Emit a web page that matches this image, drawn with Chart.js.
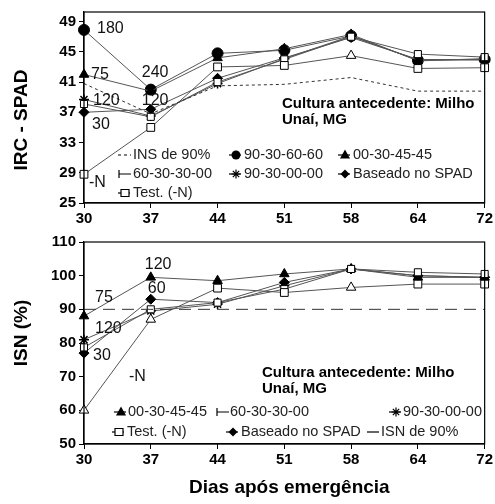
<!DOCTYPE html>
<html><head><meta charset="utf-8">
<script src="https://cdn.jsdelivr.net/npm/chart.js@4.4.0/dist/chart.umd.min.js"></script>
<style>
html,body{margin:0;padding:0;background:#fff;}
#wrap{position:relative;width:495px;height:504px;overflow:hidden;background:#fff;}
canvas{position:absolute;left:0;}
#c1{top:0;} #c2{top:230px;}
</style></head><body>
<div id="wrap"><canvas id="c1" width="495" height="230"></canvas><canvas id="c2" width="495" height="274"></canvas></div>
<script>
// ---------- data ----------
const days = ['30','37','44','51','58','64','72'];

// Top panel: IRC - SPAD
const topTicks = [25,29,33,37,41,45,49];
const ins90Top   = [40.8, 36.8, 40.5, 40.7, 41.6, 39.8, 39.8];
const t90306060  = [47.9, 40.0, 44.8, 45.2, 47.1, 43.9, 44.0];
const t00304545  = [42.0, 39.8, 44.2, 45.4, 47.3, 43.8, 44.1];
const t60303000  = [38.1, 36.4, 41.0, 44.0, 47.0, 44.7, 44.3];
const t90300000  = [38.7, 36.5, 40.8, 44.1, 47.1, 43.9, 44.0];
const tSpad      = [37.0, 37.4, 41.5, 44.2, 46.9, 44.0, 43.9];
const tTest      = [28.8, 35.0, 43.0, 43.2, 44.5, 42.8, 42.9];

// Bottom panel: ISN (%)
const bottomTicks = [50,60,70,80,90,100,110];
const b00304545 = [88.0, 99.5, 98.5, 100.5, 102.0, 99.5, 99.5];
const b60303000 = [78.7, 90.0, 92.0, 96.0, 102.0, 101.0, 100.5];
const b90300000 = [81.0, 89.5, 91.5, 97.0, 102.0, 100.0, 99.5];
const bSpad     = [77.0, 93.0, 92.0, 98.0, 102.0, 100.0, 99.5];
const bTest     = [60.0, 87.0, 96.3, 95.0, 96.5, 97.5, 97.5];
const isn90     = [90, 90, 90, 90, 90, 90, 90];

// ---------- helpers ----------
const FONT = "'Liberation Sans', Arial, sans-serif";
const LINE = '#555';

function drawSym(ctx, sym, x, y) {
  ctx.save();
  ctx.strokeStyle = '#000'; ctx.fillStyle = '#000'; ctx.lineWidth = 1.2;
  const r = 4.5;
  ctx.beginPath();
  if (sym === 'dash') {
    ctx.setLineDash([3,3]); ctx.moveTo(x-7,y); ctx.lineTo(x+6,y); ctx.stroke();
  } else if (sym === 'line') {
    ctx.moveTo(x-6,y); ctx.lineTo(x+6,y); ctx.stroke();
  } else if (sym === 'hbar') {
    ctx.moveTo(x-6,y); ctx.lineTo(x+6,y); ctx.moveTo(x-6,y-4); ctx.lineTo(x-6,y+4); ctx.stroke();
  } else {
    ctx.moveTo(x-7,y); ctx.lineTo(x+5,y); ctx.stroke();
    ctx.beginPath();
    if (sym === 'circle') { ctx.arc(x,y,r,0,Math.PI*2); ctx.fill(); }
    else if (sym === 'triangle') { ctx.moveTo(x,y-r-1); ctx.lineTo(x+r+0.5,y+r-1); ctx.lineTo(x-r-0.5,y+r-1); ctx.closePath(); ctx.fill(); }
    else if (sym === 'rectRot') { ctx.moveTo(x,y-r); ctx.lineTo(x+r,y); ctx.lineTo(x,y+r); ctx.lineTo(x-r,y); ctx.closePath(); ctx.fill(); }
    else if (sym === 'rect' || sym === 'hook') { ctx.fillStyle='#fff'; ctx.rect(x-4,y-3.5,8,7); ctx.fill(); ctx.stroke(); }
    else if (sym === 'star') {
      for (let k=0;k<4;k++){ const a=k*Math.PI/4; ctx.moveTo(x-Math.cos(a)*r,y-Math.sin(a)*r); ctx.lineTo(x+Math.cos(a)*r,y+Math.sin(a)*r);} ctx.stroke();
    }
  }
  ctx.restore();
}

const extrasPlugin = {
  id: 'extras',
  afterDraw(chart, args, o) {
    const {ctx, chartArea: a} = chart;
    const xs = chart.scales.x, ys = chart.scales.y;
    ctx.save();
    // frame
    ctx.strokeStyle = '#000'; ctx.lineWidth = 1.2;
    ctx.strokeRect(a.left, a.top, a.right - a.left, a.bottom - a.top);
    // point labels
    ctx.fillStyle = '#111'; ctx.textBaseline = 'middle'; ctx.textAlign = 'left';
    ctx.font = '16px ' + FONT;
    (o.labels || []).forEach(l => {
      const px = xs.getPixelForValue(l.i), py = ys.getPixelForValue(l.series[l.i]);
      ctx.fillText(l.text, px + l.dx, py + l.dy);
    });
    // notes
    ctx.font = 'bold 15px ' + FONT; ctx.fillStyle = '#000';
    (o.notes || []).forEach(n => ctx.fillText(n.text, n.x, n.y));
    // legend
    ctx.font = '14.5px ' + FONT; ctx.fillStyle = '#222';
    (o.legend || []).forEach(it => {
      drawSym(ctx, it.sym, it.sx, it.y);
      ctx.fillStyle = '#222';
      ctx.fillText(it.text, it.tx, it.y);
    });
    // y title
    if (o.yTitle) {
      ctx.save();
      ctx.font = 'bold 19px ' + FONT; ctx.fillStyle = '#000'; ctx.textAlign = 'center';
      ctx.translate(o.yTitle.x, o.yTitle.y); ctx.rotate(-Math.PI/2);
      ctx.fillText(o.yTitle.text, 0, 0);
      ctx.restore();
    }
    if (o.xTitle) {
      ctx.font = 'bold 19px ' + FONT; ctx.fillStyle = '#000'; ctx.textAlign = 'center';
      ctx.fillText(o.xTitle.text, (a.left + a.right)/2 + 5, o.xTitle.y);
    }
    ctx.restore();
  }
};

function ds(label, data, style, extra) {
  return Object.assign({
    label, data, borderColor: LINE, borderWidth: 1, tension: 0,
    pointStyle: style, pointRadius: 5, pointBorderColor: '#000', pointBackgroundColor: '#000',
    pointBorderWidth: 1
  }, extra || {});
}

function axes(tickVals, min, max, xHeight) {
  return {
    x: {
      type: 'category', offset: false,
      grid: { drawOnChartArea: false, drawTicks: true, tickLength: 5, color: '#000' },
      border: { display: true, color: '#000', width: 1.2 },
      ticks: { color: '#000', font: { family: FONT, size: 15, weight: 'bold' }, padding: 2, maxRotation: 0, autoSkip: false },
      afterFit: s => { s.height = xHeight; }
    },
    y: {
      min, max,
      afterBuildTicks: s => { s.ticks = tickVals.map(v => ({ value: v })); },
      grid: { drawOnChartArea: false, drawTicks: true, tickLength: 5, color: '#000' },
      border: { display: true, color: '#000', width: 1.2 },
      ticks: { color: '#000', font: { family: FONT, size: 15, weight: 'bold' }, padding: 3 },
      afterFit: s => { s.width = 84; }
    }
  };
}

const common = {
  responsive: false, animation: false, devicePixelRatio: 1,
  plugins: { legend: { display: false }, tooltip: { enabled: false } }
};

// ---------- top chart ----------
new Chart(document.getElementById('c1'), {
  type: 'line',
  data: {
    labels: days,
    datasets: [
      ds('INS de 90%', ins90Top, 'circle', { pointRadius: 0, borderDash: [3,3], borderColor: '#333' }),
      ds('Test. (-N)', tTest, ['rect','rect','rect','rect','triangle','rect','rect'], { pointBackgroundColor: '#fff', pointRadius: 5.5 }),
      ds('60-30-30-00', t60303000, 'rect', { pointBackgroundColor: '#fff', pointRadius: 5 }),
      ds('90-30-00-00', t90300000, 'star', { pointBorderWidth: 1.5, pointRadius: 5 }),
      ds('Baseado no SPAD', tSpad, 'rectRot', { pointRadius: 5 }),
      ds('00-30-45-45', t00304545, 'triangle', { pointRadius: 5.5 }),
      ds('90-30-60-60', t90306060, 'circle', { pointRadius: 5.5 })
    ]
  },
  options: Object.assign({}, common, {
    layout: { padding: { top: 5, right: 9, left: 0, bottom: 0 } },
    scales: axes(topTicks, 25, 50.27, 27),
    plugins: Object.assign({}, common.plugins, {
      extras: {
        yTitle: { text: 'IRC - SPAD', x: 22, y: 120 },
        labels: [
          { text: '180', series: t90306060, i: 0, dx: 13, dy: -1 },
          { text: '75',  series: t00304545, i: 0, dx: 7,  dy: 0 },
          { text: '240', series: t90306060, i: 1, dx: -9, dy: -17 },
          { text: '120', series: t90300000, i: 0, dx: 9,  dy: 1 },
          { text: '120', series: tSpad,     i: 1, dx: -9, dy: -9 },
          { text: '30',  series: tSpad,     i: 0, dx: 8,  dy: 12 },
          { text: '-N',  series: tTest,     i: 0, dx: 5,  dy: 8 }
        ],
        notes: [
          { text: 'Cultura antecedente: Milho', x: 282, y: 104 },
          { text: 'Unaí, MG', x: 282, y: 120 }
        ],
        legend: [
          { sym: 'dash', text: 'INS de 90%', sx: 125, tx: 133, y: 155 },
          { sym: 'circle', text: '90-30-60-60', sx: 236, tx: 244, y: 155 },
          { sym: 'triangle', text: '00-30-45-45', sx: 345, tx: 353, y: 155 },
          { sym: 'hbar', text: '60-30-30-00', sx: 125, tx: 133, y: 174 },
          { sym: 'star', text: '90-30-00-00', sx: 236, tx: 244, y: 174 },
          { sym: 'rectRot', text: 'Baseado no SPAD', sx: 345, tx: 353, y: 174 },
          { sym: 'hook', text: 'Test. (-N)', sx: 125, tx: 133, y: 193 }
        ]
      }
    })
  }),
  plugins: [extrasPlugin]
});

// ---------- bottom chart ----------
new Chart(document.getElementById('c2'), {
  type: 'line',
  data: {
    labels: days,
    datasets: [
      ds('ISN de 90%', isn90, 'circle', { pointRadius: 0, borderDash: [12,7], borderColor: '#333' }),
      ds('Test. (-N)', bTest, ['triangle','triangle','rect','rect','triangle','rect','rect'], { pointBackgroundColor: '#fff', pointRadius: 5.5 }),
      ds('60-30-30-00', b60303000, 'rect', { pointBackgroundColor: '#fff', pointRadius: 5 }),
      ds('90-30-00-00', b90300000, 'star', { pointBorderWidth: 1.5, pointRadius: 5 }),
      ds('Baseado no SPAD', bSpad, 'rectRot', { pointRadius: 5 }),
      ds('00-30-45-45', b00304545, 'triangle', { pointRadius: 5.5 })
    ]
  },
  options: Object.assign({}, common, {
    layout: { padding: { top: 10, right: 9, left: 0, bottom: 0 } },
    scales: axes(bottomTicks, 50, 110, 60),
    plugins: Object.assign({}, common.plugins, {
      extras: {
        yTitle: { text: 'ISN (%)', x: 22, y: 103 },
        xTitle: { text: 'Dias após emergência', y: 258 },
        labels: [
          { text: '120', series: b00304545, i: 1, dx: -6,  dy: -13 },
          { text: '60',  series: bSpad,     i: 1, dx: -3,  dy: -11 },
          { text: '75',  series: b00304545, i: 0, dx: 11,  dy: -18 },
          { text: '120', series: b90300000, i: 0, dx: 11,  dy: -11 },
          { text: '30',  series: bSpad,     i: 0, dx: 9,   dy: 2 },
          { text: '-N',  series: bTest,     i: 0, dx: 45,  dy: -34 }
        ],
        notes: [
          { text: 'Cultura antecedente: Milho', x: 262, y: 143 },
          { text: 'Unaí, MG', x: 262, y: 159 }
        ],
        legend: [
          { sym: 'triangle', text: '00-30-45-45', sx: 121, tx: 128, y: 182 },
          { sym: 'hbar', text: '60-30-30-00', sx: 223, tx: 230, y: 182 },
          { sym: 'star', text: '90-30-00-00', sx: 396, tx: 403, y: 182 },
          { sym: 'rect', text: 'Test. (-N)', sx: 119, tx: 127, y: 202 },
          { sym: 'rectRot', text: 'Baseado no SPAD', sx: 233, tx: 241, y: 202 },
          { sym: 'line', text: 'ISN de 90%', sx: 373, tx: 381, y: 202 }
        ]
      }
    })
  }),
  plugins: [extrasPlugin]
});
</script>
</body></html>
